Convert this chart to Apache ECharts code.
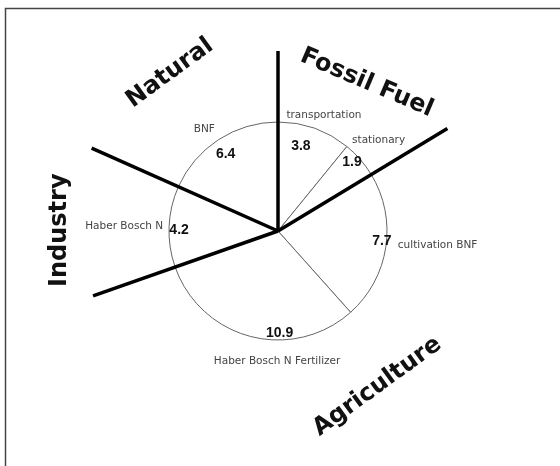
<!DOCTYPE html>
<html>
<head>
<meta charset="utf-8">
<script src="https://cdn.jsdelivr.net/npm/echarts@6/dist/echarts.min.js"></script>
<style>
html,body{margin:0;padding:0;background:#fff;}
#chart{width:560px;height:466px;}
</style>
</head>
<body>
<div id="chart"></div>
<script>
// ---- data ----
var sliceNames = ['transportation', 'stationary', 'cultivation BNF', 'Haber Bosch N Fertilizer', 'Haber Bosch N', 'BNF'];
var sliceValues = [3.8, 1.9, 7.7, 10.9, 4.2, 6.4];
var sliceGroup = [0, 0, 1, 1, 2, 3];
var categories = ['Fossil Fuel', 'Agriculture', 'Industry', 'Natural'];

// ---- styling (positions / sizes, not data) ----
var CX = 278, CY = 231, R = 109;
var valueNudge = [[-10, 7], [0, -5], [7, -4], [26, 7], [-1, 3], [1, 5]];
var nameNudge = [[3, 5], [4, -7], [33, -5], [31, 6], [-26, 0], [-4, 6]];
var catNudge = [[-6, 20], [17, -19], [-25, 7], [-3, 4]];
var catRotate = [-23, 36, 90, 36];
var separatorLength = [180, 198, 196, 204];

// ---- derived ----
var total = sliceValues.reduce(function (a, b) { return a + b; }, 0);
var catValues = categories.map(function (c, ci) {
  var s = 0;
  sliceValues.forEach(function (v, i) { if (sliceGroup[i] === ci) s += v; });
  return s;
});
var boundaries = [];
var acc = 0;
catValues.forEach(function (v) { boundaries.push(acc); acc += v; });

var sliceData = sliceNames.map(function (n, i) { return { name: n, value: sliceValues[i] }; });
var catData = categories.map(function (n, i) { return { name: n, value: catValues[i] }; });

// screen-space nudge -> label-local nudge for a rotated label
function localNudge(sx, sy, deg) {
  var r = deg * Math.PI / 180;
  return { dx: sx * Math.cos(r) - sy * Math.sin(r), dy: sx * Math.sin(r) + sy * Math.cos(r) };
}

var transparentPie = {
  type: 'pie', center: [CX, CY], startAngle: 90, clockwise: true, silent: true,
  itemStyle: { color: 'rgba(0,0,0,0)', borderWidth: 0 },
  labelLine: { show: false }, emphasis: { disabled: true }, animation: false
};

var series = [
  {
    type: 'pie', center: [CX, CY], radius: [0, R], startAngle: 90, clockwise: true, silent: true,
    data: sliceData, animation: false,
    itemStyle: { color: '#ffffff', borderColor: '#666666', borderWidth: 1 },
    label: { show: false }, labelLine: { show: false }, emphasis: { disabled: true }, z: 1
  },
  Object.assign({}, transparentPie, {
    radius: [0, 190], data: sliceData, z: 3,
    label: { show: true, position: 'inside', formatter: function (p) { return p.value.toFixed(1); },
      fontFamily: 'Liberation Sans, Arial, sans-serif', fontSize: 14, fontWeight: 'bold', color: '#111' },
    labelLayout: function (p) { return { dx: valueNudge[p.dataIndex][0], dy: valueNudge[p.dataIndex][1] }; }
  }),
  Object.assign({}, transparentPie, {
    radius: [0, 250], data: sliceData, z: 3,
    label: { show: true, position: 'inside', formatter: '{b}',
      fontFamily: 'DejaVu Sans, sans-serif', fontSize: 10.5, color: '#444' },
    labelLayout: function (p) { return { dx: nameNudge[p.dataIndex][0], dy: nameNudge[p.dataIndex][1] }; }
  }),
  Object.assign({}, transparentPie, {
    radius: [0, 380], data: catData, z: 3,
    label: { show: true, position: 'inside', formatter: '{b}',
      fontFamily: 'DejaVu Sans, sans-serif', fontWeight: 'bold', fontSize: 24, color: '#111' },
    labelLayout: function (p) {
      var i = p.dataIndex;
      var n = localNudge(catNudge[i][0], catNudge[i][1], catRotate[i]);
      return { dx: n.dx, dy: n.dy, rotate: catRotate[i] };
    }
  })
];

boundaries.forEach(function (b, i) {
  series.push({
    type: 'line', coordinateSystem: 'polar', silent: true, animation: false, z: 5,
    symbol: 'none', lineStyle: { color: '#000', width: 3.5 },
    data: [[0, b], [separatorLength[i], b]]
  });
});

var chart = echarts.init(document.getElementById('chart'), null, { renderer: 'canvas' });
chart.setOption({
  backgroundColor: '#ffffff',
  animation: false,
  polar: { center: [CX, CY], radius: 220 },
  angleAxis: { type: 'value', min: 0, max: total, startAngle: 90, clockwise: true, show: false },
  radiusAxis: { type: 'value', min: 0, max: 220, show: false },
  graphic: [{
    type: 'rect', silent: true,
    shape: { x: 5.5, y: 8.5, width: 700, height: 700 },
    style: { fill: 'none', stroke: '#444', lineWidth: 1.5 }
  }],
  series: series
});
</script>
</body>
</html>
